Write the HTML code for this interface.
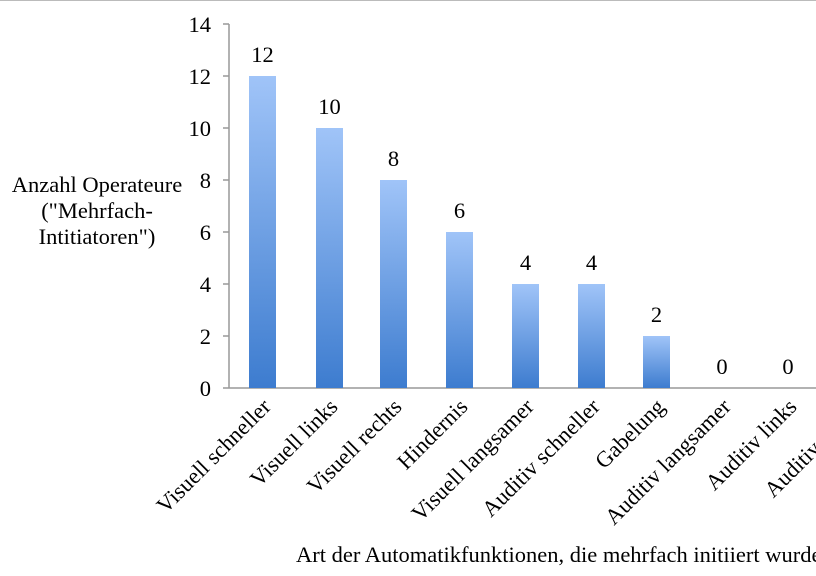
<!DOCTYPE html><html><head><style>body{margin:0;background:#fff}svg{display:block}text{font-family:"Liberation Serif",serif;fill:#000}</style></head><body>
<svg width="816" height="576" viewBox="0 0 816 576">
<defs><linearGradient id="g" x1="0" y1="0" x2="0" y2="1"><stop offset="0" stop-color="#a0c4f8"/><stop offset="1" stop-color="#3d7ccf"/></linearGradient></defs>
<line x1="0" y1="0.5" x2="816" y2="0.5" stroke="#bbb"/>
<g stroke="#999" stroke-width="1.5">
<line x1="229" y1="24" x2="229" y2="388"/><line x1="223" y1="388" x2="816" y2="388"/>
<line x1="223" y1="24" x2="229" y2="24"/><line x1="223" y1="76" x2="229" y2="76"/><line x1="223" y1="128" x2="229" y2="128"/><line x1="223" y1="180" x2="229" y2="180"/><line x1="223" y1="232" x2="229" y2="232"/><line x1="223" y1="284" x2="229" y2="284"/><line x1="223" y1="336" x2="229" y2="336"/>
</g>
<g font-size="22.5" text-anchor="end">
<text x="211" y="32">14</text><text x="211" y="84">12</text><text x="211" y="136">10</text><text x="211" y="188">8</text><text x="211" y="240">6</text><text x="211" y="292">4</text><text x="211" y="344">2</text><text x="211" y="396">0</text>
</g>
<g fill="url(#g)">
<rect x="249" y="76" width="27" height="312"/><rect x="316" y="128" width="27" height="260"/><rect x="380" y="180" width="27" height="208"/><rect x="446" y="232" width="27" height="156"/><rect x="512" y="284" width="27" height="104"/><rect x="578" y="284" width="27" height="104"/><rect x="643" y="336" width="27" height="52"/>
</g>
<g font-size="22.5" text-anchor="middle">
<text x="262.5" y="62">12</text><text x="329.5" y="114">10</text><text x="393.5" y="166">8</text><text x="459.5" y="218">6</text><text x="525.5" y="270">4</text><text x="591.5" y="270">4</text><text x="656.5" y="322">2</text><text x="722" y="374">0</text><text x="788" y="374">0</text>
</g>
<g font-size="22.5" text-anchor="end">
<text transform="translate(272,408) rotate(-45)">Visuell schneller</text>
<text transform="translate(339,408) rotate(-45)">Visuell links</text>
<text transform="translate(403,408) rotate(-45)">Visuell rechts</text>
<text transform="translate(469,408) rotate(-45)">Hindernis</text>
<text transform="translate(535,408) rotate(-45)">Visuell langsamer</text>
<text transform="translate(601,408) rotate(-45)">Auditiv schneller</text>
<text transform="translate(666,408) rotate(-45)">Gabelung</text>
<text transform="translate(732,408) rotate(-45)">Auditiv langsamer</text>
<text transform="translate(798,408) rotate(-45)">Auditiv links</text>
<text transform="translate(864,408) rotate(-45)">Auditiv rechts</text>
</g>
<g font-size="22.5" text-anchor="middle">
<text x="97" y="192">Anzahl Operateure</text><text x="97" y="218">("Mehrfach-</text><text x="97" y="244">Intitiatoren")</text>
</g>
<text x="296" y="562" font-size="22.5">Art der Automatikfunktionen, die mehrfach initiiert wurden</text>
</svg></body></html>
